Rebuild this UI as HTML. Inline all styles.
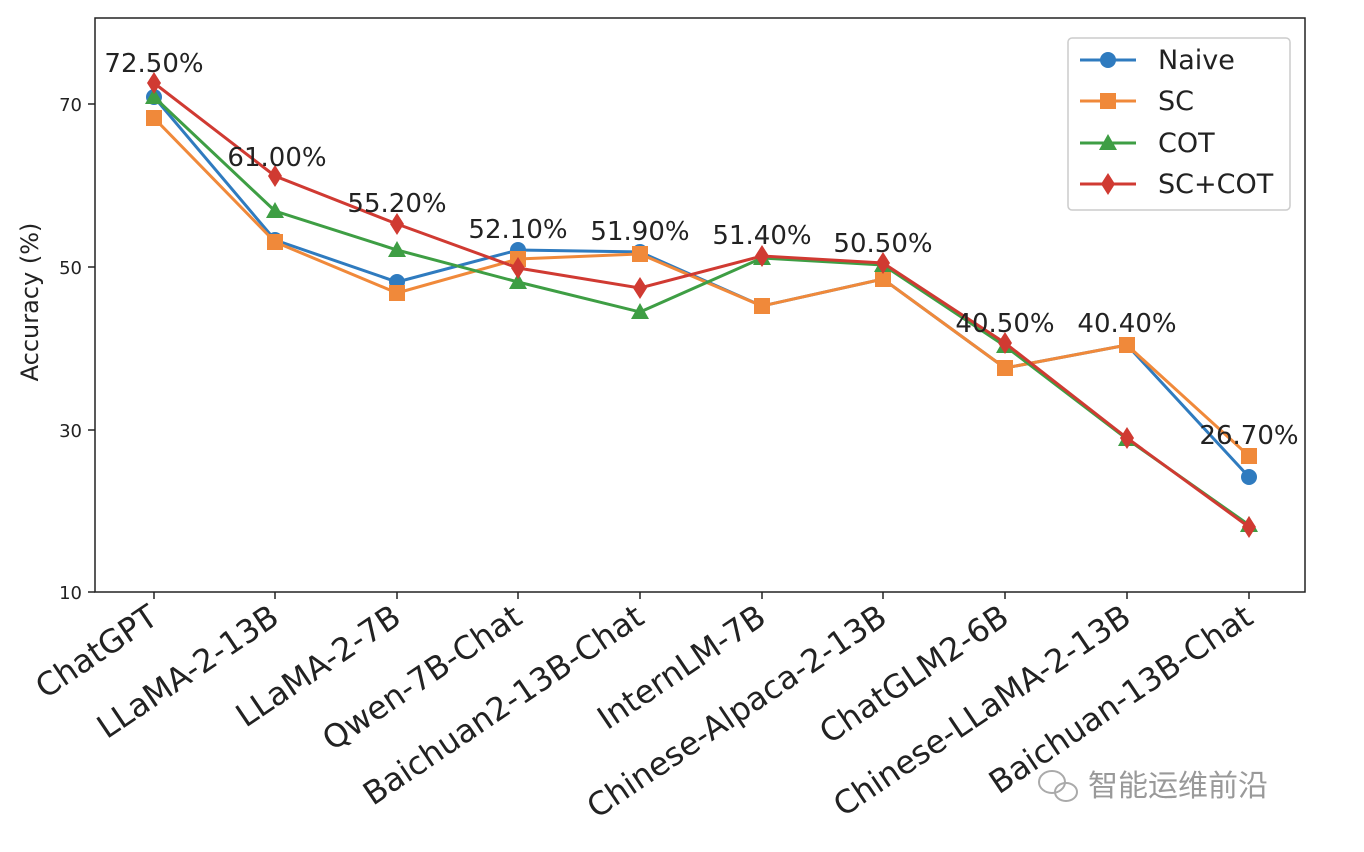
<!DOCTYPE html>
<html><head><meta charset="utf-8"><style>
html,body{margin:0;padding:0;background:#fff;}
svg{display:block;font-family:"DejaVu Sans","Liberation Sans",sans-serif;}
</style></head><body>
<svg width="1364" height="852" viewBox="0 0 1364 852" xmlns="http://www.w3.org/2000/svg">
<rect width="1364" height="852" fill="#fff"/>
<g font-size="18" fill="#222" text-anchor="end">
<line x1="88" y1="104" x2="95" y2="104" stroke="#222" stroke-width="1.5"/><text x="82" y="111">70</text>
<line x1="88" y1="267" x2="95" y2="267" stroke="#222" stroke-width="1.5"/><text x="82" y="274">50</text>
<line x1="88" y1="430" x2="95" y2="430" stroke="#222" stroke-width="1.5"/><text x="82" y="437">30</text>
<line x1="88" y1="592" x2="95" y2="592" stroke="#222" stroke-width="1.5"/><text x="82" y="599">10</text>
</g>
<text transform="translate(38,302) rotate(-90)" font-size="24" text-anchor="middle" fill="#222">Accuracy (%)</text>
<g stroke="#222" stroke-width="1.5">
<line x1="154" y1="592" x2="154" y2="599"/><line x1="275" y1="592" x2="275" y2="599"/><line x1="397" y1="592" x2="397" y2="599"/><line x1="518" y1="592" x2="518" y2="599"/><line x1="640" y1="592" x2="640" y2="599"/><line x1="762" y1="592" x2="762" y2="599"/><line x1="883" y1="592" x2="883" y2="599"/><line x1="1005" y1="592" x2="1005" y2="599"/><line x1="1127" y1="592" x2="1127" y2="599"/><line x1="1249" y1="592" x2="1249" y2="599"/>
</g>
<g font-size="32" fill="#222" text-anchor="end">
<text transform="translate(160,622) rotate(-34)">ChatGPT</text>
<text transform="translate(281,622) rotate(-34)">LLaMA-2-13B</text>
<text transform="translate(403,622) rotate(-34)">LLaMA-2-7B</text>
<text transform="translate(524,622) rotate(-34)">Qwen-7B-Chat</text>
<text transform="translate(646,622) rotate(-34)">Baichuan2-13B-Chat</text>
<text transform="translate(768,622) rotate(-34)">InternLM-7B</text>
<text transform="translate(889,622) rotate(-34)">Chinese-Alpaca-2-13B</text>
<text transform="translate(1011,622) rotate(-34)">ChatGLM2-6B</text>
<text transform="translate(1133,622) rotate(-34)">Chinese-LLaMA-2-13B</text>
<text transform="translate(1255,622) rotate(-34)">Baichuan-13B-Chat</text>
</g>
<polyline fill="none" stroke="#2f7bbf" stroke-width="3" points="154,97 275,240 397,282 518,250 640,252 762,306 883,279 1005,368 1127,345 1249,477"/>
<g fill="#2f7bbf">
<circle cx="154" cy="97" r="8"/><circle cx="275" cy="240" r="8"/><circle cx="397" cy="282" r="8"/><circle cx="518" cy="250" r="8"/><circle cx="640" cy="252" r="8"/><circle cx="762" cy="306" r="8"/><circle cx="883" cy="279" r="8"/><circle cx="1005" cy="368" r="8"/><circle cx="1127" cy="345" r="8"/><circle cx="1249" cy="477" r="8"/>
</g>
<polyline fill="none" stroke="#f0893a" stroke-width="3" points="154,118 275,242 397,293 518,259 640,254 762,306 883,279 1005,368 1127,345 1249,456"/>
<g fill="#f0893a">
<rect x="146" y="110" width="16" height="16"/><rect x="267" y="234" width="16" height="16"/><rect x="389" y="285" width="16" height="16"/><rect x="510" y="251" width="16" height="16"/><rect x="632" y="246" width="16" height="16"/><rect x="754" y="298" width="16" height="16"/><rect x="875" y="271" width="16" height="16"/><rect x="997" y="360" width="16" height="16"/><rect x="1119" y="337" width="16" height="16"/><rect x="1241" y="448" width="16" height="16"/>
</g>
<polyline fill="none" stroke="#3e9e44" stroke-width="3" points="154,97 275,211 397,250 518,282 640,312 762,258 883,265 1005,346 1127,439 1249,525"/>
<g fill="#3e9e44">
<polygon points="154,88 163,104 145,104"/><polygon points="275,202 284,218 266,218"/><polygon points="397,241 406,257 388,257"/><polygon points="518,273 527,289 509,289"/><polygon points="640,303 649,319 631,319"/><polygon points="762,249 771,265 753,265"/><polygon points="883,256 892,272 874,272"/><polygon points="1005,337 1014,353 996,353"/><polygon points="1127,430 1136,446 1118,446"/><polygon points="1249,516 1258,532 1240,532"/>
</g>
<polyline fill="none" stroke="#d03a32" stroke-width="3" points="154,83 275,176 397,224 518,268 640,288 762,256 883,263 1005,343 1127,438 1249,527"/>
<g fill="#d03a32">
<polygon points="154,72 161,83 154,94 147,83"/><polygon points="275,165 282,176 275,187 268,176"/><polygon points="397,213 404,224 397,235 390,224"/><polygon points="518,257 525,268 518,279 511,268"/><polygon points="640,277 647,288 640,299 633,288"/><polygon points="762,245 769,256 762,267 755,256"/><polygon points="883,252 890,263 883,274 876,263"/><polygon points="1005,332 1012,343 1005,354 998,343"/><polygon points="1127,427 1134,438 1127,449 1120,438"/><polygon points="1249,516 1256,527 1249,538 1242,527"/>
</g>
<g font-size="26" fill="#222" text-anchor="middle">
<text x="154" y="72">72.50%</text>
<text x="277" y="166">61.00%</text>
<text x="397" y="212">55.20%</text>
<text x="518" y="238">52.10%</text>
<text x="640" y="240">51.90%</text>
<text x="762" y="244">51.40%</text>
<text x="883" y="252">50.50%</text>
<text x="1005" y="332">40.50%</text>
<text x="1127" y="332">40.40%</text>
<text x="1249" y="444">26.70%</text>
</g>
<rect x="95" y="18" width="1210" height="574" fill="none" stroke="#222" stroke-width="1.5"/>
<rect x="1068" y="38" width="222" height="172" rx="4" fill="#fff" stroke="#ccc" stroke-width="1.5"/>
<g font-size="27" fill="#222">
<line x1="1080" y1="60" x2="1136" y2="60" stroke="#2f7bbf" stroke-width="3"/><circle cx="1108" cy="60" r="8" fill="#2f7bbf"/><text x="1158" y="69">Naive</text>
<line x1="1080" y1="101" x2="1136" y2="101" stroke="#f0893a" stroke-width="3"/><rect x="1100" y="93" width="16" height="16" fill="#f0893a"/><text x="1158" y="110">SC</text>
<line x1="1080" y1="143" x2="1136" y2="143" stroke="#3e9e44" stroke-width="3"/><polygon points="1108,134 1117,150 1099,150" fill="#3e9e44"/><text x="1158" y="152">COT</text>
<line x1="1080" y1="184" x2="1136" y2="184" stroke="#d03a32" stroke-width="3"/><polygon points="1108,173 1115,184 1108,195 1101,184" fill="#d03a32"/><text x="1158" y="193">SC+COT</text>
</g>
<g fill="none" stroke="#aaa" stroke-width="2">
<ellipse cx="1052" cy="782" rx="13" ry="11"/><ellipse cx="1066" cy="792" rx="11" ry="9"/>
</g>
<text x="1088" y="796" font-size="30" fill="#999" font-family="'Liberation Sans','Noto Sans CJK SC',sans-serif">智能运维前沿</text>
</svg>
</body></html>
